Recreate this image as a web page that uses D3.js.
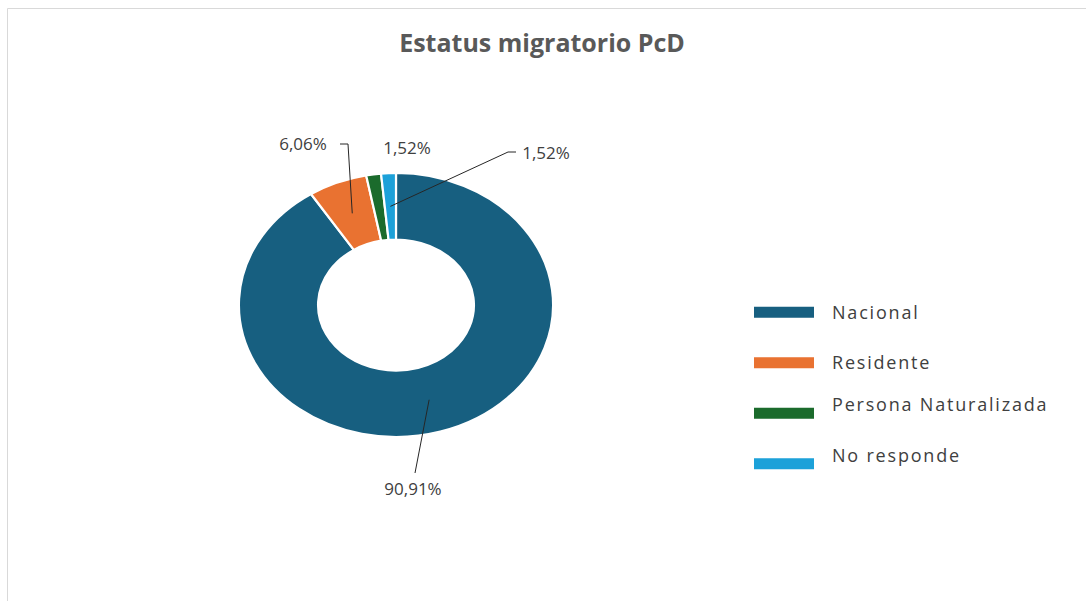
<!DOCTYPE html>
<html>
<head>
<meta charset="utf-8">
<script src="https://cdn.jsdelivr.net/npm/d3@7"></script>
<style>
    body { margin: 0; background: #fff; }
    text { font-family: "Open Sans", "Liberation Sans", sans-serif; }
</style>
</head>
<body>
<div id="chart"></div>
<script>
// data
var categories = ["Nacional", "Residente", "Persona Naturalizada", "No responde"];
var values = [90.91, 6.06, 1.52, 1.52];
var labels = ["90,91%", "6,06%", "1,52%", "1,52%"];
var colors = ["#175f80", "#e97231", "#1b6b2c", "#1ca1d9"];

// layout
var width = 1086, height = 601;
var cx = 396, cy = 305;
var outerR = 132, innerR = 65.5, stretch = 1.19;
// label anchors (text centre) and leader elbows
var labelPos = [[413, 489], [303, 144], [407, 148], [546, 153]];
var leaderElbow = [null, [[340, 144], [348, 144]], null, [[516, 152], [508, 152]]];
var legendTextDy = [0, 0, -9, -8];

var svg = d3.select("#chart")
    .append("svg")
    .attr("width", width)
    .attr("height", height);

// frame
svg.append("path")
    .attr("d", "M7.5," + height + "V8.5H" + width)
    .attr("fill", "none")
    .attr("stroke", "#d9d9d9")
    .attr("stroke-width", 1);

// title
svg.append("text")
    .attr("x", 542)
    .attr("y", 52)
    .attr("text-anchor", "middle")
    .attr("font-size", 25)
    .attr("font-weight", 700)
    .attr("fill", "#595959")
    .text("Estatus migratorio PcD");

var pie = d3.pie().sort(null).value(d => d);
var arcs = pie(values);

var arc = d3.arc().innerRadius(innerR).outerRadius(outerR);

var g = svg.append("g")
    .attr("transform", "translate(" + cx + "," + cy + ") scale(" + stretch + ",1)");

g.selectAll("path.slice")
    .data(arcs)
    .enter()
    .append("path")
    .attr("class", "slice")
    .attr("d", arc)
    .attr("fill", (d, i) => colors[i])
    .attr("stroke", "#fff")
    .attr("stroke-width", 2.2)
    .attr("vector-effect", "non-scaling-stroke");

// leader lines from slice centroid to label
var line = d3.line();
arcs.forEach(function(d, i) {
    var c = arc.centroid(d);
    var p = [cx + c[0] * stretch, cy + c[1]];
    var pts;
    if (i === 0) {
        pts = [p, [labelPos[0][0] + 2, labelPos[0][1] - 16]];
    } else if (leaderElbow[i]) {
        pts = leaderElbow[i].concat([p]);
    } else {
        return;
    }
    svg.append("path")
        .attr("d", line(pts))
        .attr("fill", "none")
        .attr("stroke", "#262626")
        .attr("stroke-width", 1);
});

svg.selectAll("text.lbl")
    .data(arcs)
    .enter()
    .append("text")
    .attr("class", "lbl")
    .attr("x", (d, i) => labelPos[i][0])
    .attr("y", (d, i) => labelPos[i][1])
    .attr("dy", "0.35em")
    .attr("text-anchor", "middle")
    .attr("font-size", 17)
    .attr("fill", "#404040")
    .text((d, i) => labels[i]);

// legend
var ly = d3.scaleBand()
    .domain(categories)
    .range([287, 489])
    .paddingInner(0);

var legend = svg.selectAll("g.legend")
    .data(categories)
    .enter()
    .append("g")
    .attr("class", "legend")
    .attr("transform", d => "translate(754," + (ly(d) + ly.bandwidth() / 2) + ")");

legend.append("rect")
    .attr("x", 0)
    .attr("y", -5.5)
    .attr("width", 60)
    .attr("height", 11)
    .attr("fill", (d, i) => colors[i]);

legend.append("text")
    .attr("x", 78)
    .attr("y", (d, i) => legendTextDy[i])
    .attr("dy", "0.35em")
    .attr("font-size", 18)
    .attr("letter-spacing", 1.8)
    .attr("fill", "#404040")
    .text(d => d);
</script>
</body>
</html>
